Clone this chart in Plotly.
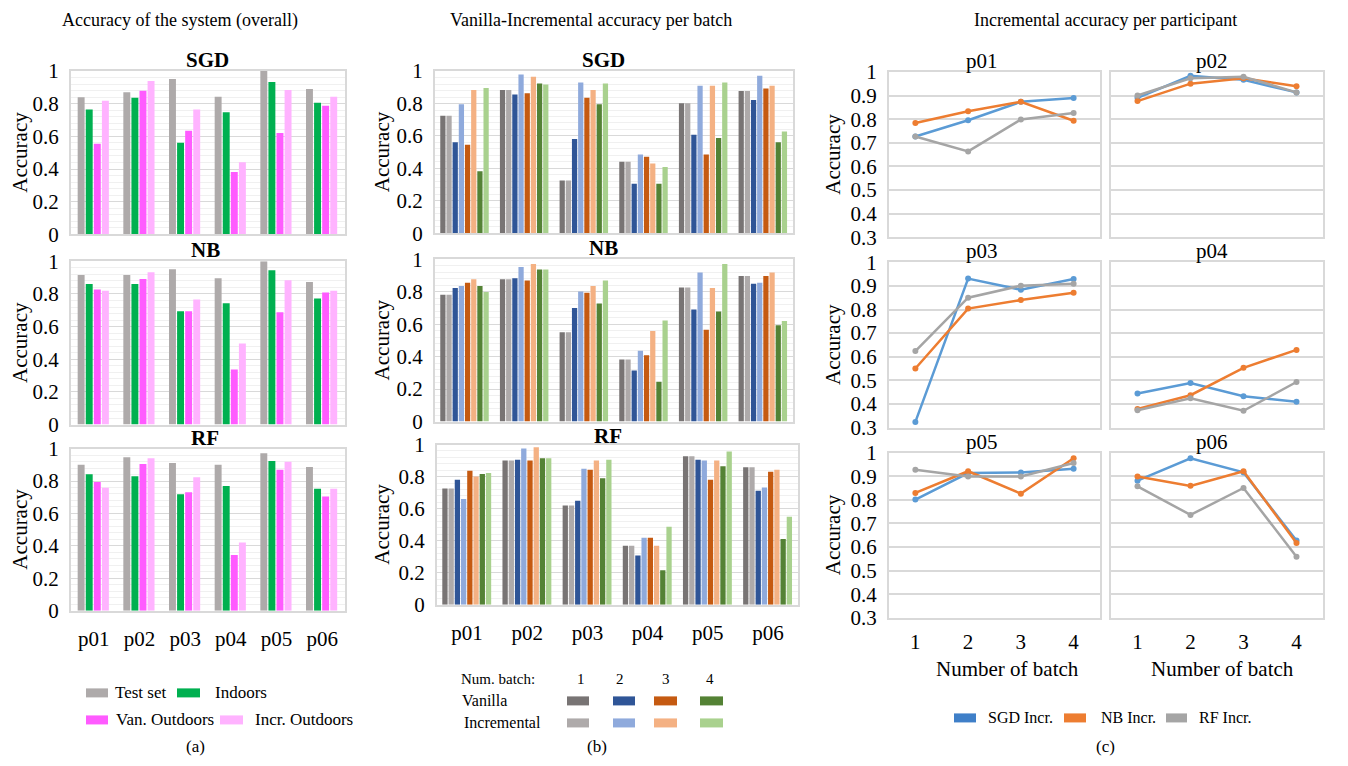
import plotly.graph_objects as go

W, H = 1348, 766
FONT = "Liberation Serif, Times New Roman, serif"

participants = ["p01", "p02", "p03", "p04", "p05", "p06"]
batches = ["1", "2", "3", "4"]

# ---------------- (a) overall accuracy ----------------
a_names = ["Test set", "Indoors", "Van. Outdoors", "Incr. Outdoors"]
a_colors = ["#AEAAAA", "#00B050", "#FF5BFF", "#FFB3FF"]

sgd_test = [0.840, 0.871, 0.951, 0.843, 1.000, 0.890]
sgd_indoors = [0.765, 0.837, 0.561, 0.747, 0.933, 0.806]
sgd_van_out = [0.555, 0.880, 0.635, 0.382, 0.620, 0.788]
sgd_incr_out = [0.818, 0.939, 0.765, 0.441, 0.884, 0.843]

nb_test = [0.916, 0.916, 0.951, 0.896, 1.000, 0.874]
nb_indoors = [0.861, 0.861, 0.694, 0.743, 0.945, 0.772]
nb_van_out = [0.827, 0.892, 0.694, 0.338, 0.688, 0.809]
nb_incr_out = [0.819, 0.933, 0.766, 0.497, 0.884, 0.819]

rf_test = [0.901, 0.946, 0.911, 0.901, 0.971, 0.887]
rf_indoors = [0.841, 0.829, 0.718, 0.769, 0.924, 0.753]
rf_van_out = [0.794, 0.905, 0.730, 0.344, 0.870, 0.705]
rf_incr_out = [0.759, 0.940, 0.823, 0.421, 0.918, 0.753]

# ---------------- (b) vanilla / incremental per batch ----------------
b_names = ["Vanilla 1", "Incremental 1", "Vanilla 2", "Incremental 2",
           "Vanilla 3", "Incremental 3", "Vanilla 4", "Incremental 4"]
b_colors = ["#787474", "#AEAAAA", "#2F5597", "#8FAADC",
            "#C55A11", "#F4B183", "#548235", "#A9D18E"]

sgd_van_b1 = [0.725, 0.883, 0.326, 0.441, 0.801, 0.877]
sgd_inc_b1 = [0.725, 0.883, 0.326, 0.441, 0.801, 0.877]
sgd_van_b2 = [0.561, 0.856, 0.581, 0.306, 0.608, 0.821]
sgd_inc_b2 = [0.795, 0.979, 0.930, 0.485, 0.910, 0.971]
sgd_van_b3 = [0.546, 0.864, 0.836, 0.472, 0.485, 0.893]
sgd_inc_b3 = [0.883, 0.965, 0.883, 0.431, 0.910, 0.910]
sgd_van_b4 = [0.382, 0.924, 0.795, 0.306, 0.587, 0.561]
sgd_inc_b4 = [0.895, 0.918, 0.924, 0.409, 0.930, 0.628]

nb_van_b1 = [0.782, 0.877, 0.551, 0.383, 0.827, 0.897]
nb_inc_b1 = [0.782, 0.877, 0.551, 0.383, 0.827, 0.897]
nb_van_b2 = [0.823, 0.883, 0.700, 0.315, 0.691, 0.850]
nb_inc_b2 = [0.835, 0.953, 0.802, 0.436, 0.918, 0.856]
nb_van_b3 = [0.856, 0.870, 0.794, 0.409, 0.566, 0.897]
nb_inc_b3 = [0.877, 0.971, 0.835, 0.558, 0.823, 0.918]
nb_van_b4 = [0.835, 0.938, 0.728, 0.245, 0.679, 0.593]
nb_inc_b4 = [0.798, 0.938, 0.870, 0.623, 0.971, 0.619]

rf_van_b1 = [0.726, 0.900, 0.619, 0.368, 0.927, 0.858]
rf_inc_b1 = [0.726, 0.900, 0.619, 0.368, 0.927, 0.858]
rf_van_b2 = [0.780, 0.906, 0.649, 0.308, 0.906, 0.711]
rf_inc_b2 = [0.661, 0.975, 0.849, 0.418, 0.900, 0.732]
rf_van_b3 = [0.837, 0.900, 0.843, 0.418, 0.780, 0.831]
rf_inc_b3 = [0.801, 0.983, 0.900, 0.368, 0.900, 0.843]
rf_van_b4 = [0.816, 0.914, 0.789, 0.215, 0.864, 0.410]
rf_inc_b4 = [0.822, 0.914, 0.906, 0.487, 0.956, 0.550]

# ---------------- (c) incremental accuracy per participant ----------------
c_names = ["SGD Incr.", "NB Incr.", "RF Incr."]
c_colors = ["#5B9BD5", "#ED7D31", "#A5A5A5"]

p01_sgd = [0.727, 0.796, 0.874, 0.890]
p01_nb = [0.784, 0.834, 0.874, 0.794]
p01_rf = [0.727, 0.664, 0.799, 0.827]
p02_sgd = [0.891, 0.984, 0.967, 0.914]
p02_nb = [0.877, 0.951, 0.974, 0.940]
p02_rf = [0.901, 0.974, 0.980, 0.914]
p03_sgd = [0.324, 0.931, 0.884, 0.929]
p03_nb = [0.550, 0.804, 0.840, 0.871]
p03_rf = [0.624, 0.850, 0.901, 0.909]
p04_sgd = [0.444, 0.489, 0.433, 0.409]
p04_nb = [0.379, 0.437, 0.553, 0.629]
p04_rf = [0.373, 0.424, 0.371, 0.493]
p05_sgd = [0.801, 0.913, 0.916, 0.931]
p05_nb = [0.829, 0.921, 0.826, 0.976]
p05_rf = [0.927, 0.899, 0.899, 0.956]
p06_sgd = [0.881, 0.976, 0.916, 0.627]
p06_nb = [0.899, 0.859, 0.921, 0.617]
p06_rf = [0.857, 0.736, 0.850, 0.559]

# ---------------- helpers (positions given in picture pixels) ----------------
VS, VOFF = 0.9674, 12.0   # observed vertical mapping of the photographed page


def css_y(y):
    return (y - VOFF) / VS


def dx(x0, x1):
    return [x0 / W, x1 / W]


def dy(y0, y1):
    return [1 - css_y(y1) / H, 1 - css_y(y0) / H]


def px(x):
    return x / W


def py(y):
    return 1 - css_y(y) / H


fig = go.Figure()
layout = {}
annotations = []
shapes = []

FRAME = "#D9D9D9"
GRID = "#D9D9D9"
MINOR = "#F0F0F0"


def ann(text, x, y, size, anchor="center", angle=0):
    annotations.append(dict(xref="paper", yref="paper", x=px(x), y=py(y), text=text,
                            showarrow=False, xanchor=anchor, yanchor="middle",
                            textangle=angle,
                            font=dict(family=FONT, size=size, color="black")))


def axis_names(k):
    s = "" if k == 1 else str(k)
    return "xaxis" + s, "yaxis" + s, "x" + s, "y" + s


def bar_axes(k, xdom, ydom, show_x):
    xa, ya, xr, yr = axis_names(k)
    layout[xa] = dict(domain=xdom, anchor=yr, type="category",
                      categoryorder="array", categoryarray=participants,
                      range=[-0.5, 5.5], showgrid=False, zeroline=False,
                      showline=True, linecolor=FRAME, linewidth=2, mirror=True,
                      showticklabels=show_x, ticks="outside" if show_x else "",
                      ticklen=8, tickcolor="rgba(0,0,0,0)",
                      tickfont=dict(family=FONT, size=21, color="black"))
    layout[ya] = dict(domain=ydom, anchor=xr, range=[0, 1], tick0=0, dtick=0.2,
                      showgrid=True, gridcolor=GRID, gridwidth=1, zeroline=False,
                      minor=dict(dtick=0.04, tick0=0, showgrid=True,
                                 gridcolor=MINOR, gridwidth=1),
                      showline=True, linecolor=FRAME, linewidth=2, mirror=True,
                      ticks="outside", ticklen=6, tickcolor="rgba(0,0,0,0)",
                      tickfont=dict(family=FONT, size=21, color="black"))
    return xr, yr


def line_axes(k, xdom, ydom, show_x, show_y):
    xa, ya, xr, yr = axis_names(k)
    layout[xa] = dict(domain=xdom, anchor=yr, type="category",
                      categoryorder="array", categoryarray=batches,
                      range=[-0.5, 3.5], showgrid=False, zeroline=False,
                      showline=True, linecolor=FRAME, linewidth=2, mirror=True,
                      showticklabels=show_x, ticks="outside" if show_x else "",
                      ticklen=4, tickcolor="rgba(0,0,0,0)",
                      tickfont=dict(family=FONT, size=21, color="black"))
    layout[ya] = dict(domain=ydom, anchor=xr, range=[0.3, 1.0], tick0=0.3,
                      dtick=0.1, showgrid=True, gridcolor=GRID, gridwidth=1.5,
                      zeroline=False, showline=True, linecolor=FRAME,
                      linewidth=2, mirror=True, showticklabels=show_y,
                      ticks="outside" if show_y else "", ticklen=6,
                      tickcolor="rgba(0,0,0,0)",
                      tickfont=dict(family=FONT, size=21, color="black"))
    return xr, yr


# ---------------- column (a) ----------------
a_rows = [
    ("SGD", [sgd_test, sgd_indoors, sgd_van_out, sgd_incr_out], (71, 345, 71, 234), (207, 60)),
    ("NB", [nb_test, nb_indoors, nb_van_out, nb_incr_out], (71, 345, 261, 424), (205, 250)),
    ("RF", [rf_test, rf_indoors, rf_van_out, rf_incr_out], (71, 345, 448, 610), (205, 437)),
]
k = 1
for r, (name, series, (x0, x1, y0, y1), (tx, ty)) in enumerate(a_rows):
    xr, yr = bar_axes(k, dx(x0, x1), dy(y0, y1), r == 2)
    pitch = 0.177
    for i, vals in enumerate(series):
        fig.add_trace(go.Bar(x=participants, y=vals, name=a_names[i],
                             marker=dict(color=a_colors[i], line=dict(width=0)),
                             width=0.152, offset=-0.354 + i * pitch,
                             xaxis=xr, yaxis=yr, showlegend=False))
    ann("<b>%s</b>" % name, tx, ty, 21)
    ann("Accuracy", 20, (y0 + y1) / 2, 21, angle=-90)
    k += 1

# ---------------- column (b) ----------------
b_rows = [
    ("SGD", [sgd_van_b1, sgd_inc_b1, sgd_van_b2, sgd_inc_b2,
             sgd_van_b3, sgd_inc_b3, sgd_van_b4, sgd_inc_b4], (435, 793, 71, 233), (603, 60)),
    ("NB", [nb_van_b1, nb_inc_b1, nb_van_b2, nb_inc_b2,
            nb_van_b3, nb_inc_b3, nb_van_b4, nb_inc_b4], (435, 793, 259, 421), (603, 248)),
    ("RF", [rf_van_b1, rf_inc_b1, rf_van_b2, rf_inc_b2,
            rf_van_b3, rf_inc_b3, rf_van_b4, rf_inc_b4], (437, 798, 444, 604), (608, 435)),
]
for r, (name, series, (x0, x1, y0, y1), (tx, ty)) in enumerate(b_rows):
    xr, yr = bar_axes(k, dx(x0, x1), dy(y0, y1), r == 2)
    pitch = 0.1035
    for i, vals in enumerate(series):
        fig.add_trace(go.Bar(x=participants, y=vals, name=b_names[i],
                             marker=dict(color=b_colors[i], line=dict(width=0)),
                             width=0.088, offset=-0.412 + i * pitch,
                             xaxis=xr, yaxis=yr, showlegend=False))
    ann("<b>%s</b>" % name, tx, ty, 21)
    ann("Accuracy", 382, (y0 + y1) / 2, 21, angle=-90)
    k += 1

# ---------------- column (c) ----------------
c_panels = [
    ("p01", [p01_sgd, p01_nb, p01_rf], (889, 1100, 72, 237), 0, 0),
    ("p02", [p02_sgd, p02_nb, p02_rf], (1111, 1323, 72, 237), 0, 1),
    ("p03", [p03_sgd, p03_nb, p03_rf], (889, 1100, 262, 427), 1, 0),
    ("p04", [p04_sgd, p04_nb, p04_rf], (1111, 1323, 262, 427), 1, 1),
    ("p05", [p05_sgd, p05_nb, p05_rf], (889, 1100, 452, 617), 2, 0),
    ("p06", [p06_sgd, p06_nb, p06_rf], (1111, 1323, 452, 617), 2, 1),
]
for name, series, (x0, x1, y0, y1), row, col in c_panels:
    xr, yr = line_axes(k, dx(x0, x1), dy(y0, y1), row == 2, col == 0)
    for i, vals in enumerate(series):
        fig.add_trace(go.Scatter(x=batches, y=vals, name=c_names[i], mode="lines+markers",
                                 line=dict(color=c_colors[i], width=2.5),
                                 marker=dict(color=c_colors[i], size=6),
                                 xaxis=xr, yaxis=yr, showlegend=False, cliponaxis=False))
    ann(name, 982 if col == 0 else 1212, y0 - 11, 21)
    if col == 0:
        ann("Accuracy", 833, (y0 + y1) / 2, 21, angle=-90)
    if row == 2:
        ann("Number of batch", 1007 if col == 0 else 1222, 668, 21)
    k += 1

# ---------------- headings and captions ----------------
ann("Accuracy of the system (overall)", 180, 20, 18)
ann("Vanilla-Incremental accuracy per batch", 591, 20, 18)
ann("Incremental accuracy per participant", 1105, 20, 18)
ann("(a)", 195, 746, 17)
ann("(b)", 597, 746, 17)
ann("(c)", 1105, 746, 17)


def swatch(x0, x1, yc, color, h=9):
    shapes.append(dict(type="rect", xref="paper", yref="paper",
                       x0=px(x0), x1=px(x1), y0=py(yc + h / 2), y1=py(yc - h / 2),
                       fillcolor=color, line=dict(width=0)))


# legend (a)
a_leg = [(86, 108, 692, 113), (177, 200, 692, 213), (86, 108, 719, 114), (220, 243, 719, 253)]
for i, (s0, s1, yc, tx) in enumerate(a_leg):
    swatch(s0, s1, yc, a_colors[i])
    ann(a_names[i], tx, yc, 17, "left")

# legend (b)
ann("Num. batch:", 459, 678, 15, "left")
for b, xc in zip(batches, [581, 620, 666, 710]):
    ann(b, xc, 678, 15)
ann("Vanilla", 460, 700, 16, "left")
ann("Incremental", 462, 722, 16, "left")
b_sw = [(567, 589), (613, 635), (654, 677), (700, 723)]
for j, (s0, s1) in enumerate(b_sw):
    swatch(s0, s1, 700, b_colors[2 * j])
    swatch(s0, s1, 722, b_colors[2 * j + 1])

# legend (c)
c_sw = [(954, 976, 986), (1064, 1086, 1099), (1166, 1187, 1197)]
c_sw_colors = ["#3F7FC8", "#ED7D31", "#A5A5A5"]
for i, (s0, s1, tx) in enumerate(c_sw):
    swatch(s0, s1, 717, c_sw_colors[i])
    ann(c_names[i], tx, 717, 16, "left")

layout.update(dict(width=W, height=H, autosize=False,
                   margin=dict(l=0, r=0, t=0, b=0),
                   paper_bgcolor="white", plot_bgcolor="white",
                   showlegend=False, annotations=annotations, shapes=shapes,
                   font=dict(family=FONT, color="black")))
fig.update_layout(**layout)

fig.write_html("out.html", config={"displayModeBar": False},
               post_script="document.body.style.margin='0';")
